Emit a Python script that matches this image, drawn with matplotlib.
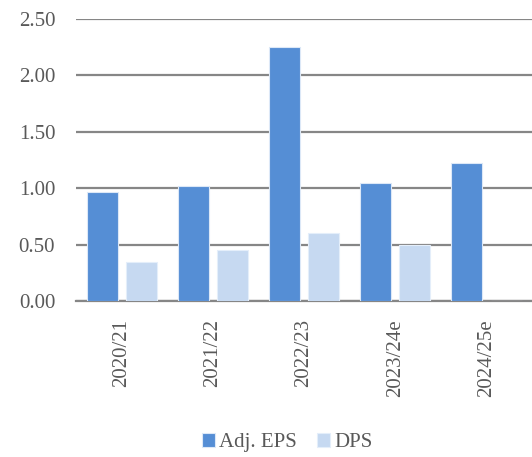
import numpy as np
import matplotlib
matplotlib.use("Agg")
import matplotlib.pyplot as plt

years = ["2020/21", "2021/22", "2022/23", "2023/24e", "2024/25e"]
adj_eps = [0.97, 1.02, 2.25, 1.05, 1.22]
dps = [0.35, 0.45, 0.60, 0.50, 0.0]

EPS_COLOR = "#558ED5"
DPS_COLOR = "#C6D9F1"
TEXT_COLOR = "#595959"
GRID_COLOR = "#868686"

plt.rcParams["font.family"] = ["Liberation Serif", "DejaVu Serif"]

fig = plt.figure(figsize=(5.32, 4.57), dpi=100)
ax = fig.add_axes([0.1429, 0.3414, 0.8571, 0.617])

x = np.arange(len(years))
w = 0.34
ax.bar(x - 0.215, adj_eps, w, color=EPS_COLOR, edgecolor="#DCE8F7", linewidth=0.8,
       label="Adj. EPS", zorder=3)
ax.bar(x + 0.215, dps, w, color=DPS_COLOR, edgecolor="#E4EEFA", linewidth=0.8,
       label="DPS", zorder=3)

ax.set_xlim(-0.5, len(years) - 0.5)
ax.set_ylim(0, 2.5)
ax.set_yticks(np.arange(0, 2.51, 0.5))
ax.set_yticklabels([f"{v:.2f}" for v in np.arange(0, 2.51, 0.5)])
ax.yaxis.grid(True, color=GRID_COLOR, linewidth=1.6, zorder=0)
ax.set_axisbelow(True)

for s in ["left", "right", "top"]:
    ax.spines[s].set_visible(False)
ax.spines["bottom"].set_color(GRID_COLOR)
ax.spines["bottom"].set_linewidth(1.6)

ax.set_xticks(x)
ax.set_xticklabels(years, rotation=90)
ax.tick_params(axis="both", length=0, labelcolor=TEXT_COLOR, labelsize=15)
ax.tick_params(axis="x", pad=13)
ax.tick_params(axis="y", pad=15)

fig.legend(loc="center", bbox_to_anchor=(0.54, 0.031), ncol=2, frameon=False,
           fontsize=15, labelcolor=TEXT_COLOR, handlelength=0.6, handleheight=0.6,
           handletextpad=0.2, columnspacing=1.0)

fig.savefig("out.png", dpi=100)
